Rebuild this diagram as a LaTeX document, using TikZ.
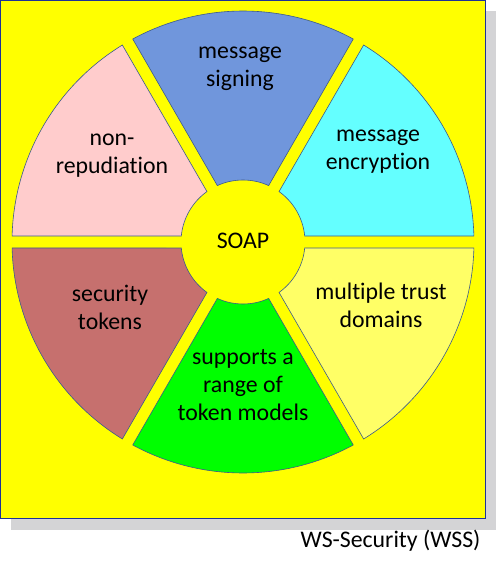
\documentclass[tikz,border=0pt]{standalone}
\usepackage{fontspec}
\setmainfont{Carlito}[Ligatures=NoCommon]
\usepackage{xcolor}
\usepackage{tikz}

\definecolor{wssyellow}{RGB}{255,255,0}
\definecolor{wssframe}{RGB}{30,50,150}
\definecolor{wssshadow}{RGB}{212,212,214}
\definecolor{wssedge}{RGB}{60,90,140}
\definecolor{segcyan}{RGB}{100,255,255}
\definecolor{segblue}{RGB}{112,150,220}
\definecolor{segpink}{RGB}{255,204,204}
\definecolor{segbrown}{RGB}{198,112,110}
\definecolor{seggreen}{RGB}{0,255,0}
\definecolor{seglight}{RGB}{255,255,102}

\begin{document}
\begin{tikzpicture}[x=1pt, y=1pt,
  sector/.style={draw=wssedge, line width=0.6pt},
  label/.style={align=center, text=black, font=\fontsize{23.8}{28}\selectfont}]

\useasboundingbox (-243,242) rectangle (253,-342);

% shadow and panel
\fill[wssshadow] (-232,231) rectangle (253,-288);
\draw[fill=wssyellow, draw=wssframe, line width=1pt] (-242,241.5) rectangle (242,-276);

% six sectors with a gap of 12
\def\Rout{231}
\def\Rin{62}
\foreach \a/\col in {0/segcyan, 60/segblue, 120/segpink, 180/segbrown, 240/seggreen, 300/seglight} {
  \pgfmathsetmacro{\so}{\a+asin(6/\Rout)}
  \pgfmathsetmacro{\eo}{\a+60-asin(6/\Rout)}
  \pgfmathsetmacro{\si}{\a+asin(6/\Rin)}
  \pgfmathsetmacro{\ei}{\a+60-asin(6/\Rin)}
  \draw[sector, fill=\col] (\so:\Rout) arc[start angle=\so, end angle=\eo, radius=\Rout]
    -- (\ei:\Rin) arc[start angle=\ei, end angle=\si, radius=\Rin] -- cycle;
}

\node[label] (soap) at (0,1) {SOAP};
\node[label] (signing) at (-3,173) {message\\signing};
\node[label] (encryption) at (135,90) {message\\encryption};
\node[label] (nonrep) at (-131,86) {non-\\repudiation};
\node[label] (tokens) at (-133,-65) {security\\tokens};
\node[label] (trust) at (138,-63) {multiple trust\\domains};
\node[label] (models) at (0,-143) {supports a\\range of\\token models};

\node[label, anchor=base east] (caption) at (241,-305) {WS-Security (WSS)};

\end{tikzpicture}
\end{document}
